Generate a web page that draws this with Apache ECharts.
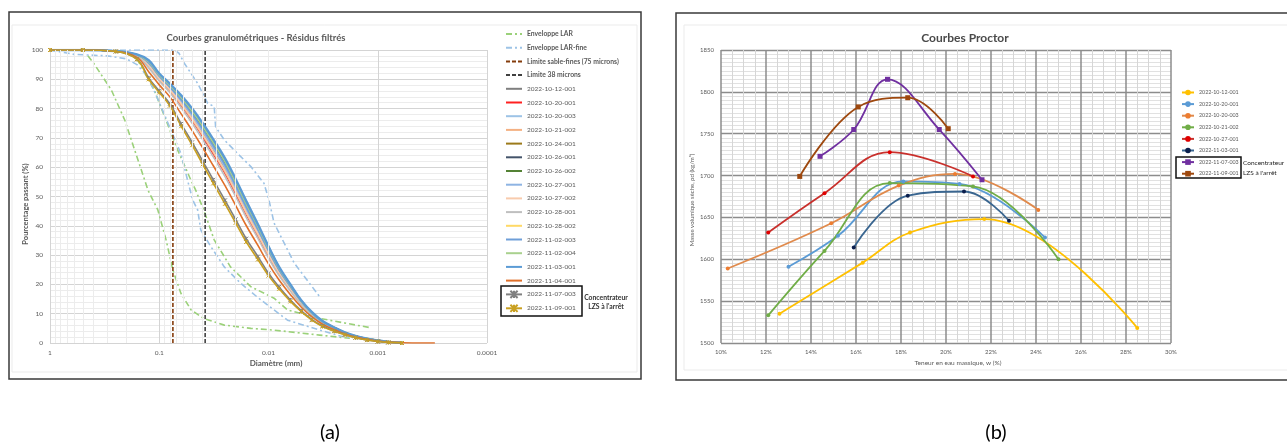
<!DOCTYPE html>
<html>
<head>
<meta charset="utf-8">
<script src="https://cdn.jsdelivr.net/npm/echarts@6/dist/echarts.min.js"></script>
<style>
html, body { margin: 0; padding: 0; background: #fff; }
#gran, #proctor { position: absolute; left: 0; top: 0; width: 1287px; height: 445px; }
</style>
</head>
<body>
<div id="gran"></div>
<div id="proctor"></div>
<script>
// ---------- (a) courbes granulometriques ----------
var diam = [1, 0.5, 0.25, 0.16, 0.125, 0.1, 0.08, 0.063, 0.05, 0.04, 0.032, 0.025, 0.02, 0.016, 0.0125, 0.01, 0.008, 0.0063, 0.005, 0.004, 0.0032, 0.0025, 0.002, 0.0016, 0.00125, 0.001, 0.0008, 0.0006, 0.0004, 0.0003];
var diamTickLabels = ['1', '0.1', '0.01', '0.001', '0.0001'];

var p_2022_10_12_001 = [100,100,99.6,98.1,94.9,90.4,86.7,82,77,71.6,65.9,59.3,52.4,45.1,37.6,30.6,24.2,18.6,13.6,9.9,7,5,3.4,2.3,1.4,0.8,0.4,0.1];
var p_2022_10_20_001 = [100,100,99.6,97.9,94.4,89.9,86,81,75.9,70.4,64.5,57.9,51,43.9,36.5,29.7,23.5,18.1,13.2,9.6,6.9,4.9,3.3,2.2,1.3,0.8,0.3,0.1];
var p_2022_10_20_003 = [100,100,99.6,98.2,95.2,90.7,87,82.4,77.5,72.2,66.5,59.9,53,45.7,38.1,31,24.5,18.8,13.7,10,7.1,5,3.4,2.3,1.4,0.8,0.4,0.1];
var p_2022_10_21_002 = [100,100,99.6,98,94.5,90,86.2,81.3,76.2,70.8,65,58.3,51.5,44.3,36.9,30,23.7,18.3,13.4,9.7,6.9,4.9,3.4,2.2,1.3,0.8,0.3,0.1];
var p_2022_10_24_001 = [100,100,99.6,98.3,95.8,91.3,87.7,83.4,78.7,73.6,68,61.4,54.5,47.1,39.3,32,25.2,19.4,14.1,10.2,7.3,5.2,3.5,2.3,1.4,0.9,0.4,0.1];
var p_2022_10_26_001 = [100,100,99.6,98.4,96.3,91.8,88.3,84.2,79.6,74.6,69,62.5,55.5,48.1,40.1,32.7,25.8,19.8,14.4,10.4,7.4,5.3,3.6,2.4,1.5,0.9,0.4,0.1];
var p_2022_10_26_002 = [100,100,99.6,98.3,95.7,91.2,87.6,83.2,78.5,73.3,67.7,61.1,54.2,46.8,39.1,31.8,25.1,19.3,14,10.2,7.3,5.1,3.5,2.3,1.4,0.9,0.4,0.1];
var p_2022_10_27_001 = [100,100,99.6,98.2,95.4,90.9,87.2,82.7,77.9,72.6,66.9,60.4,53.4,46.1,38.5,31.3,24.7,19,13.9,10,7.2,5.1,3.5,2.3,1.4,0.8,0.4,0.1];
var p_2022_10_27_002 = [100,100,99.6,98,94.7,90.2,86.5,81.7,76.6,71.2,65.4,58.8,51.9,44.7,37.3,30.3,24,18.4,13.5,9.8,7,4.9,3.4,2.2,1.4,0.8,0.3,0.1];
var p_2022_10_28_001 = [100,100,99.6,97.8,93.9,89.4,85.5,80.3,75,69.4,63.5,56.8,50,42.9,35.7,29,23,17.7,13,9.4,6.7,4.8,3.3,2.2,1.3,0.7,0.3,0.1];
var p_2022_10_28_002 = [100,100,99.6,98.4,96.2,91.7,88.1,84,79.4,74.3,68.7,62.2,55.2,47.8,39.9,32.5,25.6,19.7,14.3,10.4,7.4,5.2,3.6,2.4,1.5,0.9,0.4,0.1];
var p_2022_11_02_003 = [100,100,99.6,98.3,95.6,91.1,87.4,83,78.2,73,67.4,60.8,53.9,46.5,38.8,31.6,24.9,19.2,14,10.1,7.2,5.1,3.5,2.3,1.4,0.8,0.4,0.1];
var p_2022_11_02_004 = [100,100,99.6,98.4,96,91.5,88,83.8,79.1,74,68.4,61.9,54.9,47.5,39.7,32.3,25.5,19.6,14.2,10.3,7.4,5.2,3.5,2.4,1.5,0.9,0.4,0.1];
var p_2022_11_03_001 = [100,100,99.6,98.5,96.5,92,88.5,84.5,80,75,69.5,63,56,48.5,40.5,33,26,20,14.5,10.5,7.5,5.3,3.6,2.4,1.5,0.9,0.4,0.1];
var p_2022_11_04_001 = [100,100,99.5,97.5,92.6,88.1,84,78.2,72.5,66.6,60.5,53.7,47,40.1,33.3,27,21.5,16.5,12.2,8.9,6.4,4.5,3.1,2,1.2,0.7,0.3,0.1,0,0];
var p_2022_11_07_003 = [100,100,99.5,96.9,90.5,86,81.6,74.8,68.5,62.1,55.7,48.7,42.2,35.6,29.5,23.8,19.1,14.7,11,8,5.8,4.1,2.9,1.8,1,0.5,0.2,0];
var p_2022_11_09_001 = [100,100,99.5,96.8,90,85.5,81,74,67.5,61,54.5,47.5,41,34.5,28.5,23,18.5,14.2,10.7,7.8,5.6,4,2.8,1.8,1,0.5,0.2,0];

var larLowD = [0.45,0.39,0.274,0.207,0.168,0.136,0.127,0.103,0.0866,0.075,0.0634,0.0512,0.0393,0.0254,0.0145,0.0089,0.0067,0.0034,0.0018];
var larLowP = [98,95,86.3,76.1,65.9,55.6,52.2,45.4,35.2,24.9,17,11.3,8.4,6.1,5,4.4,3.9,2.7,1.6];
var larHighD = [0.16,0.111,0.0679,0.0513,0.0462,0.0388,0.0314,0.0223,0.0145,0.0089,0.0067,0.0034,0.0012];
var larHighP = [97,86.3,65.9,55.6,52,45,35.2,26,19.2,15.3,11.3,8.4,5.3];
var fineLowD = [1,0.6,0.3,0.2,0.16,0.127,0.0963,0.0783,0.0634,0.0551,0.0494,0.0445,0.0417,0.0337,0.0254,0.018,0.0125,0.0067,0.0034,0.0022,0.0017];
var fineLowP = [100,98.5,98,97,95,90.9,80.7,72.7,64.7,55.6,48.8,45.4,38.6,32.9,26,20.4,15.5,7.8,4.4,2.4,1.7];
var fineHighD = [1,0.073,0.066,0.059,0.0445,0.036,0.0314,0.0305,0.0254,0.0192,0.0145,0.011,0.0099,0.0089,0.0058,0.0034];
var fineHighP = [100,100,98.9,95.5,88.6,81.8,80.7,73.8,69.3,64.7,60.2,54.5,48.8,41,27.2,15.8];
var limitD = [0.075, 0.038];
var limitP = [0, 100];

var sampleNames = ['2022-10-12-001','2022-10-20-001','2022-10-20-003','2022-10-21-002','2022-10-24-001','2022-10-26-001','2022-10-26-002','2022-10-27-001','2022-10-27-002','2022-10-28-001','2022-10-28-002','2022-11-02-003','2022-11-02-004','2022-11-03-001','2022-11-04-001','2022-11-07-003','2022-11-09-001'];
var sampleValues = [p_2022_10_12_001, p_2022_10_20_001, p_2022_10_20_003, p_2022_10_21_002, p_2022_10_24_001, p_2022_10_26_001, p_2022_10_26_002, p_2022_10_27_001, p_2022_10_27_002, p_2022_10_28_001, p_2022_10_28_002, p_2022_11_02_003, p_2022_11_02_004, p_2022_11_03_001, p_2022_11_04_001, p_2022_11_07_003, p_2022_11_09_001];
var sampleColors = ['#7f7f7f','#ff2020','#9dc3e6','#f4b183','#9c7a1a','#44546a','#548235','#8eb4e3','#f8cbad','#bfbfbf','#ffd966','#6f9fd8','#a9d18e','#5b9bd5','#e0702a','#808080','#c9a020'];

var FONT = 'Lato';
var GRAY = '#595959';

function pairs(xs, ys) {
    return ys.map(function (y, i) { return [xs[i], y]; });
}

// lignes secondaires de la grille log (2..9 par decade)
var minorDiam = [];
[-4, -3, -2, -1].forEach(function (e) {
    [2, 3, 4, 5, 6, 7, 8, 9].forEach(function (k) { minorDiam.push(k * Math.pow(10, e)); });
});

var dash = [6, 3, 2, 3];
var granSeries = [
    {
        name: '_grid', type: 'line', data: [[1, 0]], symbol: 'none', z: 1,
        lineStyle: { opacity: 0 },
        markLine: {
            silent: true, symbol: ['none', 'none'], label: { show: false },
            lineStyle: { color: '#ececec', width: 1, type: 'solid' },
            data: minorDiam.map(function (v) { return { xAxis: v }; })
        }
    },
    { name: 'Enveloppe LAR', type: 'line', data: pairs(larLowD, larLowP), symbol: 'none', lineStyle: { color: '#9bd17a', width: 1.6, type: dash }, itemStyle: { color: '#9bd17a' } },
    { name: 'Enveloppe LAR', type: 'line', data: pairs(larHighD, larHighP), symbol: 'none', lineStyle: { color: '#9bd17a', width: 1.6, type: dash }, itemStyle: { color: '#9bd17a' } },
    { name: 'Enveloppe LAR-fine', type: 'line', data: pairs(fineLowD, fineLowP), symbol: 'none', lineStyle: { color: '#9dc3e6', width: 1.6, type: dash }, itemStyle: { color: '#9dc3e6' } },
    { name: 'Enveloppe LAR-fine', type: 'line', data: pairs(fineHighD, fineHighP), symbol: 'none', lineStyle: { color: '#9dc3e6', width: 1.6, type: dash }, itemStyle: { color: '#9dc3e6' } },
    { name: 'Limite sable-fines (75 microns)', type: 'line', data: [[limitD[0], limitP[0]], [limitD[0], limitP[1]]], symbol: 'none', lineStyle: { color: '#843c0c', width: 1.6, type: [4, 2] }, itemStyle: { color: '#843c0c' } },
    { name: 'Limite 38 microns', type: 'line', data: [[limitD[1], limitP[0]], [limitD[1], limitP[1]]], symbol: 'none', lineStyle: { color: '#404040', width: 1.6, type: [4, 2] }, itemStyle: { color: '#404040' } }
];
sampleNames.forEach(function (name, i) {
    var marked = i >= 15;
    granSeries.push({
        name: name,
        type: 'line',
        smooth: 0.4,
        data: pairs(diam, sampleValues[i]),
        symbol: marked ? 'path://M0,0L10,10M10,0L0,10M5,0L5,10' : 'none',
        symbolSize: 4,
        itemStyle: marked ? { color: 'rgba(0,0,0,0)', borderColor: sampleColors[i], borderWidth: 1 } : { color: sampleColors[i] },
        lineStyle: { color: sampleColors[i], width: i === 13 ? 2.4 : 1.6 }
    });
});

var boldNames = ['Enveloppe LAR', 'Enveloppe LAR-fine', 'Limite sable-fines (75 microns)', 'Limite 38 microns'];
var granLegend = boldNames.concat(sampleNames).map(function (name) {
    var marked = name === '2022-11-07-003' || name === '2022-11-09-001';
    return marked ? { name: name } : { name: name, itemStyle: { opacity: 0 } };
});

var myChart = echarts.init(document.getElementById('gran'));
var option = {
    animation: false,
    backgroundColor: '#fff',
    textStyle: { fontFamily: FONT },
    grid: { left: 50, top: 50, width: 437, height: 293 },
    xAxis: {
        type: 'log', logBase: 10, min: 0.0001, max: 1, inverse: true,
        axisLine: { show: false }, axisTick: { show: false },
        axisLabel: {
            fontSize: 6.5, color: GRAY, margin: 6, fontFamily: FONT,
            formatter: function (v) { return diamTickLabels[Math.round(-Math.log10(v))]; }
        },
        splitLine: { show: true, lineStyle: { color: '#d4d4d4', width: 1 } }
    },
    yAxis: {
        type: 'value', min: 0, max: 100, interval: 10,
        axisLine: { show: true, lineStyle: { color: '#d4d4d4' } }, axisTick: { show: false },
        axisLabel: { fontSize: 6.5, color: GRAY, margin: 7, fontFamily: FONT },
        splitLine: { lineStyle: { color: '#d4d4d4', width: 1 } },
        minorTick: { show: false, splitNumber: 5 },
        minorSplitLine: { show: true, lineStyle: { color: '#ececec', width: 1 } }
    },
    legend: {
        orient: 'vertical', left: 505, top: 29.5, padding: 0,
        itemWidth: 16, itemHeight: 9, itemGap: 4.7,
        data: granLegend,
        formatter: function (name) { return boldNames.indexOf(name) >= 0 ? '{b|' + name + '}' : name; },
        textStyle: {
            fontSize: 6.5, color: GRAY, fontFamily: FONT, lineHeight: 9,
            rich: { b: { fontSize: 6.8, fontWeight: 'bold', color: GRAY, fontFamily: FONT, lineHeight: 9 } }
        }
    },
    graphic: [
        { type: 'rect', shape: { x: 9, y: 12, width: 632, height: 367 }, style: { fill: 'none', stroke: '#3a3a3a', lineWidth: 1.5 }, z: 0 },
        { type: 'rect', shape: { x: 12, y: 25, width: 625, height: 347 }, style: { fill: 'none', stroke: '#ebebeb', lineWidth: 1 }, z: 0 },
        { type: 'text', x: 256, y: 38, style: { text: 'Courbes granulométriques - Résidus filtrés', fontSize: 9.5, fontWeight: 'bold', fontFamily: FONT, fill: GRAY, align: 'center', verticalAlign: 'middle' } },
        { type: 'text', x: 276, y: 363, style: { text: 'Diamètre (mm)', fontSize: 8, fontWeight: 'bold', fontFamily: FONT, fill: GRAY, align: 'center', verticalAlign: 'middle' } },
        { type: 'text', x: 26, y: 204, rotation: Math.PI / 2, style: { text: 'Pourcentage passant (%)', fontSize: 7.5, fontWeight: 'bold', fontFamily: FONT, fill: GRAY, align: 'center', verticalAlign: 'middle' } },
        { type: 'rect', shape: { x: 501, y: 286, width: 81, height: 30 }, style: { fill: 'none', stroke: '#111', lineWidth: 1.5 } },
        { type: 'text', x: 606, y: 297.5, style: { text: 'Concentrateur', fontSize: 6.8, fontWeight: 'bold', fontFamily: FONT, fill: '#333', align: 'center', verticalAlign: 'middle' } },
        { type: 'text', x: 606, y: 307, style: { text: "LZS à l'arrêt", fontSize: 6.8, fontWeight: 'bold', fontFamily: FONT, fill: '#333', align: 'center', verticalAlign: 'middle' } },
        { type: 'text', x: 330, y: 433, style: { text: '(a)', fontSize: 20, fontFamily: FONT, fill: '#000', align: 'center', verticalAlign: 'middle' } }
    ],
    series: granSeries
};
myChart.setOption(option, true);

// ---------- (b) courbes Proctor ----------
var w_2022_10_12_001 = [12.6, 16.3, 18.4, 21.7, 28.5];
var rho_2022_10_12_001 = [1535, 1596, 1632, 1648, 1518];
var w_2022_10_20_001 = [13.0, 15.2, 18.1, 20.6, 24.4];
var rho_2022_10_20_001 = [1591, 1628, 1693, 1690, 1626];
var w_2022_10_20_003 = [10.3, 14.9, 17.9, 20.4, 24.1];
var rho_2022_10_20_003 = [1589, 1643, 1688, 1702, 1659];
var w_2022_10_21_002 = [12.1, 14.6, 17.5, 21.2, 25.0];
var rho_2022_10_21_002 = [1533, 1610, 1691, 1687, 1600];
var w_2022_10_27_001 = [12.1, 14.6, 17.5, 21.2];
var rho_2022_10_27_001 = [1632, 1679, 1728, 1699];
var w_2022_11_03_001 = [15.9, 18.3, 20.8, 22.8];
var rho_2022_11_03_001 = [1614, 1676, 1681, 1646];
var w_2022_11_07_003 = [14.4, 15.9, 17.4, 19.7, 21.6];
var rho_2022_11_07_003 = [1723, 1755, 1815, 1755, 1695];
var w_2022_11_09_001 = [13.5, 16.1, 18.3, 20.1];
var rho_2022_11_09_001 = [1699, 1782, 1793, 1756];

var proctorNames = ['2022-10-12-001', '2022-10-20-001', '2022-10-20-003', '2022-10-21-002', '2022-10-27-001', '2022-11-03-001', '2022-11-07-003', '2022-11-09-001'];
var proctorW = [w_2022_10_12_001, w_2022_10_20_001, w_2022_10_20_003, w_2022_10_21_002, w_2022_10_27_001, w_2022_11_03_001, w_2022_11_07_003, w_2022_11_09_001];
var proctorRho = [rho_2022_10_12_001, rho_2022_10_20_001, rho_2022_10_20_003, rho_2022_10_21_002, rho_2022_10_27_001, rho_2022_11_03_001, rho_2022_11_07_003, rho_2022_11_09_001];
var proctorLineColors = ['#ffc000', '#5b9bd5', '#e08a4c', '#70ad47', '#c9302c', '#3a6690', '#7030a0', '#9e480e'];
var proctorMarkColors = ['#ffc000', '#5b9bd5', '#ed7d31', '#70ad47', '#e00000', '#0b1f4d', '#7030a0', '#9e480e'];

var proctorSeries = proctorNames.map(function (name, i) {
    var square = i >= 6;
    return {
        name: name,
        type: 'line',
        smooth: 0.4,
        data: pairs(proctorW[i], proctorRho[i]),
        symbol: square ? 'rect' : 'circle',
        symbolSize: square ? 5 : 4,
        itemStyle: { color: proctorMarkColors[i] },
        lineStyle: { color: proctorLineColors[i], width: 1.8 }
    };
});

var myChart1 = echarts.init(document.getElementById('proctor'));
var option1 = {
    animation: false,
    textStyle: { fontFamily: FONT },
    grid: { left: 721, top: 50, width: 450, height: 293 },
    xAxis: {
        type: 'value', min: 10, max: 30, interval: 2,
        axisLine: { show: false }, axisTick: { show: false },
        axisLabel: { fontSize: 6, color: GRAY, margin: 6, fontFamily: FONT, formatter: '{value}%' },
        splitLine: { lineStyle: { color: '#8c8c8c', width: 1.5 } },
        minorTick: { show: false, splitNumber: 4 },
        minorSplitLine: { show: true, lineStyle: { color: '#d6d6d6', width: 1 } }
    },
    yAxis: {
        type: 'value', min: 1500, max: 1850, interval: 50,
        axisLine: { show: false }, axisTick: { show: false },
        axisLabel: { fontSize: 6, color: GRAY, margin: 7, fontFamily: FONT, formatter: function (v) { return String(v); } },
        splitLine: { lineStyle: { color: '#8c8c8c', width: 1.3 } },
        minorTick: { show: false, splitNumber: 10 },
        minorSplitLine: { show: true, lineStyle: { color: '#d9d9d9', width: 0.8 } }
    },
    legend: {
        orient: 'vertical', left: 1181, top: 89, padding: 0,
        itemWidth: 12, itemHeight: 7, itemGap: 4.6,
        data: proctorNames,
        textStyle: { fontSize: 5.3, color: GRAY, fontFamily: FONT, lineHeight: 7 }
    },
    graphic: [
        { type: 'rect', shape: { x: 676, y: 13, width: 640, height: 367 }, style: { fill: 'none', stroke: '#3a3a3a', lineWidth: 1.5 }, z: 0 },
        { type: 'rect', shape: { x: 684, y: 25, width: 620, height: 345 }, style: { fill: 'none', stroke: '#ebebeb', lineWidth: 1 }, z: 0 },
        { type: 'text', x: 965, y: 38, style: { text: 'Courbes Proctor', fontSize: 12, fontWeight: 'bold', fontFamily: FONT, fill: '#4a4a4a', align: 'center', verticalAlign: 'middle' } },
        { type: 'text', x: 958, y: 363, style: { text: 'Teneur en eau massique, w (%)', fontSize: 6.5, fontFamily: FONT, fill: GRAY, align: 'center', verticalAlign: 'middle' } },
        { type: 'text', x: 692, y: 200, rotation: Math.PI / 2, style: { text: 'Masse volumique sèche, ρd (kg/m³)', fontSize: 6, fontFamily: FONT, fill: GRAY, align: 'center', verticalAlign: 'middle' } },
        { type: 'rect', shape: { x: 1176, y: 157, width: 65, height: 21 }, style: { fill: 'none', stroke: '#111', lineWidth: 1.5 } },
        { type: 'text', x: 1243, y: 163, style: { text: 'Concentrateur', fontSize: 6.5, fontFamily: FONT, fill: '#222', align: 'left', verticalAlign: 'middle' } },
        { type: 'text', x: 1243, y: 173, style: { text: "LZS à l'arrêt", fontSize: 6.5, fontFamily: FONT, fill: '#222', align: 'left', verticalAlign: 'middle' } },
        { type: 'text', x: 996, y: 433, style: { text: '(b)', fontSize: 20, fontFamily: FONT, fill: '#000', align: 'center', verticalAlign: 'middle' } }
    ],
    series: proctorSeries
};
myChart1.setOption(option1, true);
</script>
</body>
</html>
